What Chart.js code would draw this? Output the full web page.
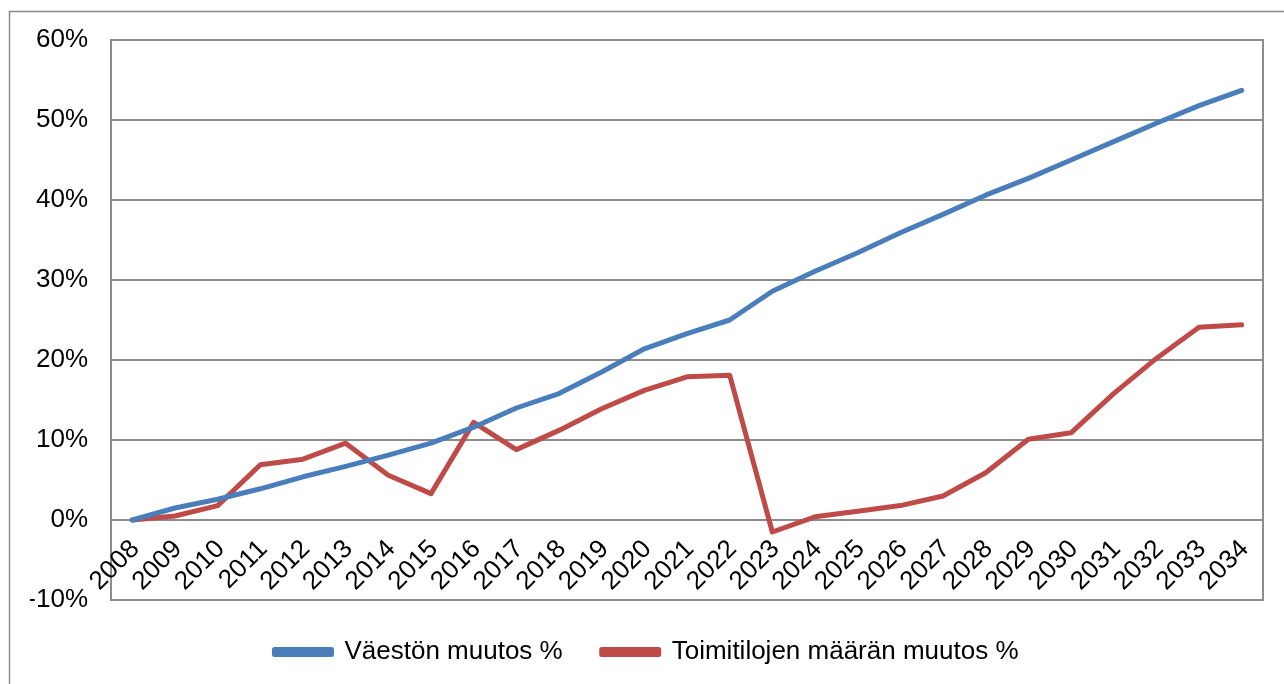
<!DOCTYPE html>
<html>
<head>
<meta charset="utf-8">
<script src="https://cdn.jsdelivr.net/npm/chart.js@4"></script>
<style>
  html, body { margin: 0; padding: 0; background: #fff; }
  #wrap { width: 1284px; height: 684px; }
</style>
</head>
<body>
<div id="wrap"><canvas id="chart" width="1284" height="684"></canvas></div>
<script>
const years = ['2008', '2009', '2010', '2011', '2012', '2013', '2014', '2015', '2016', '2017',
  '2018', '2019', '2020', '2021', '2022', '2023', '2024', '2025', '2026', '2027',
  '2028', '2029', '2030', '2031', '2032', '2033', '2034'];

// muutos % vuodesta 2008
const vaesto = [0, 1.5, 2.6, 3.9, 5.4, 6.7, 8.1, 9.6, 11.6, 14.0,
  15.8, 18.5, 21.4, 23.3, 25.0, 28.6, 31.1, 33.4, 35.9, 38.2,
  40.6, 42.7, 45.0, 47.3, 49.6, 51.8, 53.7];
const toimitilat = [0, 0.5, 1.8, 6.9, 7.6, 9.6, 5.6, 3.3, 12.2, 8.8,
  11.2, 13.9, 16.2, 17.9, 18.1, -1.5, 0.4, 1.1, 1.8, 3.0,
  5.9, 10.1, 10.9, 15.8, 20.2, 24.1, 24.4];

const yTicks = [-10, 0, 10, 20, 30, 40, 50, 60];

const FONT = 'Liberation Sans, Arial, sans-serif';
const GRID = '#8c8c8c';

// outer frame + plot box + x labels rotated under the 0 line
const frame = {
  id: 'frame',
  beforeDraw(chart) {
    const ctx = chart.ctx;
    ctx.save();
    ctx.strokeStyle = '#8c8c8c';
    ctx.lineWidth = 1.5;
    ctx.beginPath();
    ctx.moveTo(9.5, 684);
    ctx.lineTo(9.5, 11.5);
    ctx.lineTo(1284, 11.5);
    ctx.stroke();
    ctx.restore();
  },
  afterDatasetsDraw(chart) {
    const { ctx, chartArea: a, scales: { x, y } } = chart;
    ctx.save();
    ctx.strokeStyle = GRID;
    ctx.lineWidth = 2;
    ctx.strokeRect(a.left, a.top, a.right - a.left, a.bottom - a.top);

    const y0 = y.getPixelForValue(0);
    ctx.fillStyle = '#000';
    ctx.font = '26px ' + FONT;
    ctx.textAlign = 'right';
    ctx.textBaseline = 'middle';
    years.forEach((lab, i) => {
      const px = x.getPixelForValue(i);
      ctx.save();
      ctx.translate(px + 3, y0 + 25);
      ctx.rotate(-Math.PI / 4);
      ctx.fillText(lab, 0, 0);
      ctx.restore();
    });
    ctx.restore();
  }
};

new Chart(document.getElementById('chart'), {
  type: 'line',
  data: {
    labels: years,
    datasets: [
      {
        label: 'Väestön muutos %',
        data: vaesto,
        borderColor: '#4a7ebb',
        backgroundColor: '#4a7ebb',
        borderWidth: 5,
        pointRadius: 0,
        tension: 0,
        borderCapStyle: 'round',
        borderJoinStyle: 'round'
      },
      {
        label: 'Toimitilojen määrän muutos %',
        data: toimitilat,
        borderColor: '#be4b48',
        backgroundColor: '#be4b48',
        borderWidth: 5,
        pointRadius: 0,
        tension: 0,
        borderCapStyle: 'round',
        borderJoinStyle: 'round'
      }
    ]
  },
  options: {
    responsive: false,
    animation: false,
    layout: { padding: { left: 30, right: 21, top: 40, bottom: 9 } },
    plugins: {
      tooltip: { enabled: false },
      legend: {
        position: 'bottom',
        labels: {
          color: '#000',
          font: { family: FONT, size: 26 },
          boxWidth: 57,
          boxHeight: 5,
          padding: 39
        }
      }
    },
    scales: {
      x: {
        offset: true,
        grid: { display: false, drawTicks: false },
        border: { display: false },
        ticks: { display: false }
      },
      y: {
        min: -10,
        max: 60,
        afterFit(scale) { scale.width = 81; },
        afterBuildTicks(scale) { scale.ticks = yTicks.map(v => ({ value: v })); },
        grid: { color: GRID, lineWidth: 2, drawTicks: false },
        border: { display: false },
        ticks: {
          padding: 23,
          color: '#000',
          font: { family: FONT, size: 26 },
          callback: v => v + '%'
        }
      }
    }
  },
  plugins: [frame]
});
</script>
</body>
</html>
